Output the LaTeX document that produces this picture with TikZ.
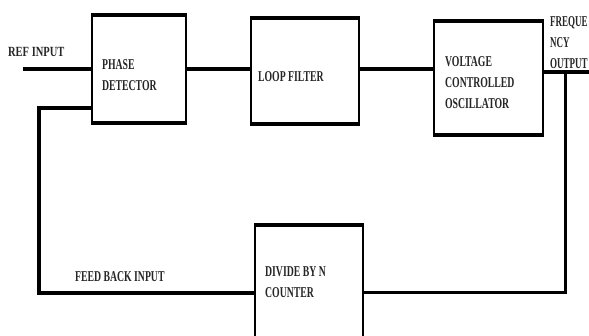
\documentclass[tikz,border=0pt]{standalone}
\usepackage{fontspec}
\setmainfont{Liberation Serif}
\begin{document}
\begin{tikzpicture}[x=1pt,y=-1pt,
  blk/.style={draw, line width=2pt, rectangle, inner sep=0pt, outer sep=0pt},
  wire/.style={line width=3.5pt, line cap=butt, line join=miter},
  edge/.style={line width=4.5pt, line cap=butt},
  lblbase/.style={font=\bfseries\fontsize{15}{21}\selectfont, align=left, inner sep=0pt, text=black!85, anchor=west},
  lbl/.style={lblbase, xscale=0.65}]
\useasboundingbox (0,0) rectangle (589,336);
\clip (0,0) rectangle (589,336);
% blocks
\node[blk, minimum width=94pt, minimum height=108pt] (pd) at (139,69) {};
\node[blk, minimum width=108pt, minimum height=106pt] (lf) at (305,71) {};
\node[blk, minimum width=109pt, minimum height=114pt] (vco) at (488.5,78) {};
\node[blk, minimum width=108pt, minimum height=114pt] (div) at (309,282) {};
% thick top and bottom edges
\foreach \b in {pd,lf,vco,div}{
  \draw[edge] ([xshift=-1pt]\b.north west) -- ([xshift=1pt]\b.north east);
  \draw[edge] ([xshift=-1pt]\b.south west) -- ([xshift=1pt]\b.south east);
}
% labels
\node[lblbase, font=\bfseries\fontsize{14}{21}\selectfont, xscale=0.75] (reft) at (8,52) {REF INPUT};
\node[lbl] (pdt) at (102,75.5) {PHASE\\DETECTOR};
\node[lbl] (lft) at (258,77) {LOOP FILTER};
\node[lbl] (vcot) at (445,83) {VOLTAGE\\CONTROLLED\\OSCILLATOR};
\node[lblbase, xscale=0.6] (outt) at (550,42.5) {FREQUE\\NCY\\OUTPUT};
\node[lbl] (divt) at (265,282) {DIVIDE BY N\\COUNTER};
\node[lbl] (fbt) at (75,277) {FEED BACK INPUT};
% connectors
\coordinate (ref) at (23,69);
\coordinate (out) at (592,72);
\coordinate (tap) at (565,72);
\coordinate (fbr) at (565,293);
\coordinate (fbl) at (39,293);
\coordinate (fbtop) at (39,108);
\draw[wire] (ref) -- (pd.west);
\draw[wire] (pd.east) -- (pd.east -| lf.west);
\draw[wire] ([yshift=2pt]lf.east) -- ([yshift=2pt]lf.east -| vco.west);
\draw[wire] (out -| vco.east) -- (out);
\draw[line width=3pt, line join=miter] (tap) -- (fbr) -- (fbr -| div.east);
\draw[wire] (fbr -| div.west) -- (fbl) -- (fbtop) -- (fbtop -| pd.west);
\end{tikzpicture}
\end{document}
